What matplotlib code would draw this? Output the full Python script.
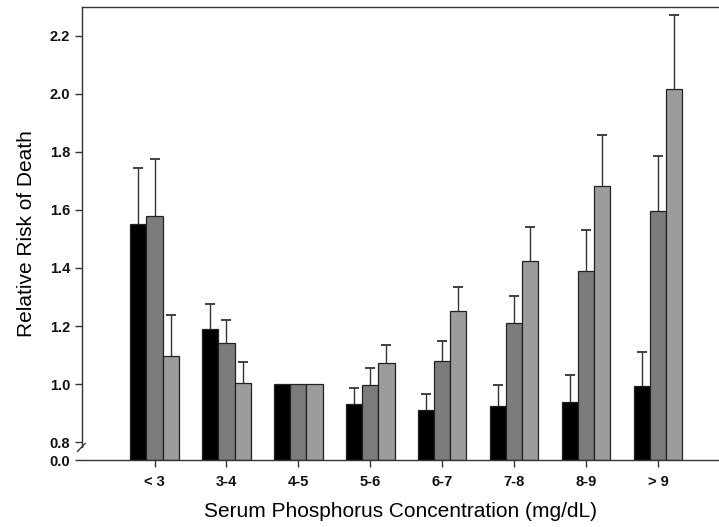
import numpy as np
import matplotlib.pyplot as plt

groups = ["< 3", "3-4", "4-5", "5-6", "6-7", "7-8", "8-9", "> 9"]
series_a = [1.552, 1.19, 1.0, 0.931, 0.910, 0.926, 0.938, 0.994]
series_a_upper = [1.745, 1.277, 1.0, 0.985, 0.966, 0.997, 1.032, 1.109]
series_b = [1.579, 1.14, 1.0, 0.996, 1.079, 1.21, 1.39, 1.596]
series_b_upper = [1.776, 1.222, 1.0, 1.054, 1.148, 1.303, 1.532, 1.786]
series_c = [1.098, 1.002, 1.0, 1.071, 1.253, 1.425, 1.682, 2.016]
series_c_upper = [1.238, 1.076, 1.0, 1.134, 1.333, 1.54, 1.86, 2.272]
ytick_vals = [0.8, 1.0, 1.2, 1.4, 1.6, 1.8, 2.0, 2.2]

plt.rcParams['font.family'] = ['Liberation Sans', 'DejaVu Sans']

# broken axis: 0.0 is drawn just below 0.8
base = 0.8 - 18 / 290

fig = plt.figure(figsize=(7.19, 5.27), dpi=100)
ax = fig.add_axes([0.114, 0.127, 0.886, 0.86])

x = np.arange(len(groups))
w = 0.225
colors = ["#000000", "#7c7c7c", "#9c9c9c"]
for off, vals, ups, c in zip([-w, 0, w],
                             [series_a, series_b, series_c],
                             [series_a_upper, series_b_upper, series_c_upper],
                             colors):
    vals = np.array(vals)
    ups = np.array(ups)
    ax.bar(x + off, vals - base, w, bottom=base, color=c,
           edgecolor="#222222", linewidth=0.9, zorder=2)
    m = ups > vals
    ax.vlines(x[m] + off, vals[m], ups[m], color="#333333", lw=1.0, zorder=1)
    ax.plot(x[m] + off, ups[m], ls="none", marker="_", ms=7, mew=1.3,
            color="#333333", zorder=1)

ax.set_xlim(-1.01, 7.85)
ax.set_ylim(base, 2.3)
ax.set_yticks([base] + ytick_vals)
ax.set_yticklabels(["0.0"] + ["%.1f" % v for v in ytick_vals])
ax.set_xticks(x)
ax.set_xticklabels(groups)
ax.tick_params(axis="both", direction="out", length=5, width=1,
               labelsize=10.5, colors="#333333", labelcolor="#111111")
ax.tick_params(axis="x", pad=6)
for lab in ax.get_xticklabels() + ax.get_yticklabels():
    lab.set_fontweight("bold")

ax.spines["right"].set_visible(False)
for s in ["left", "bottom", "top"]:
    ax.spines[s].set_color("#333333")
    ax.spines[s].set_linewidth(1.0)
ax.spines["left"].set_bounds(0.783, 2.3)

# break mark
ax.plot([-0.007, 0.005], [0.768, 0.795], transform=ax.get_yaxis_transform(),
        color="#333333", lw=1, clip_on=False)

ax.set_ylabel("Relative Risk of Death", fontsize=15, labelpad=10)
ax.set_xlabel("Serum Phosphorus Concentration (mg/dL)", fontsize=15, labelpad=9)

plt.savefig("out.png", dpi=100)
